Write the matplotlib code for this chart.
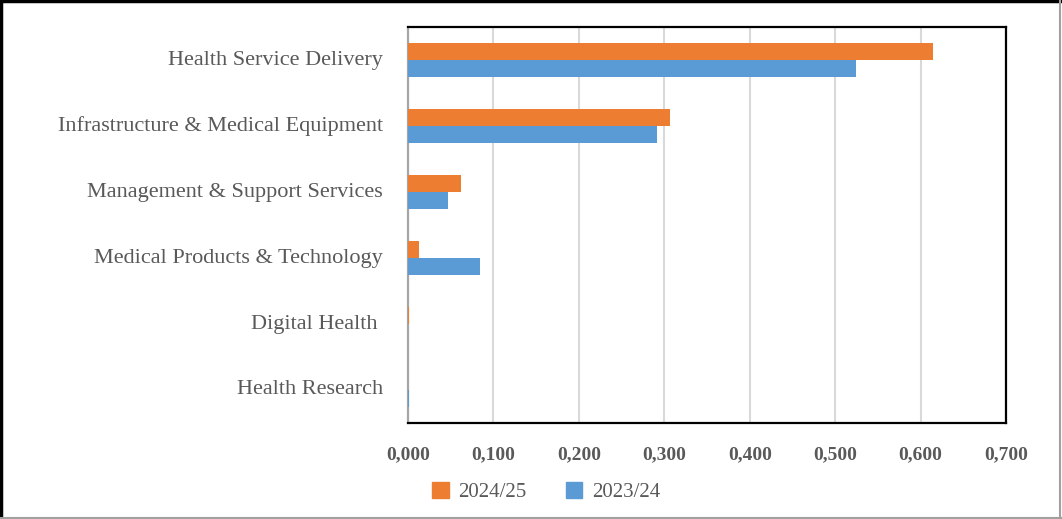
import matplotlib
matplotlib.use("Agg")
import matplotlib.pyplot as plt
from matplotlib.lines import Line2D
from matplotlib.ticker import FuncFormatter
import numpy as np

categories = [
    "Health Service Delivery",
    "Infrastructure & Medical Equipment",
    "Management & Support Services",
    "Medical Products & Technology",
    "Digital Health ",
    "Health Research",
]
fy_2024_25 = [0.615, 0.307, 0.062, 0.013, 0.001, 0.0]
fy_2023_24 = [0.524, 0.291, 0.047, 0.084, 0.0, 0.001]
x_ticks = [0.0, 0.1, 0.2, 0.3, 0.4, 0.5, 0.6, 0.7]

ORANGE = "#ED7D31"
BLUE = "#5B9BD5"
TEXT = "#595959"

plt.rcParams["font.family"] = ["Liberation Serif", "DejaVu Serif"]

fig = plt.figure(figsize=(10.62, 5.19), dpi=100)
ax = fig.add_axes([408 / 1062, 1 - 423 / 519, (1006 - 408) / 1062, (423 - 27) / 519])

y = np.arange(len(categories))
h = 0.26
ax.barh(y - h / 2, fy_2024_25, height=h, color=ORANGE, linewidth=0,
        label="2024/25", zorder=3)
ax.barh(y + h / 2, fy_2023_24, height=h, color=BLUE, linewidth=0,
        label="2023/24", zorder=3)

ax.set_ylim(len(categories) - 0.5, -0.5)
ax.set_xlim(0, 0.7)
ax.set_yticks(y)
ax.set_yticklabels(categories, fontsize=16, color=TEXT, va="center")
ax.set_xticks(x_ticks)
ax.xaxis.set_major_formatter(FuncFormatter(lambda v, _: f"{v:.3f}".replace(".", ",")))
ax.tick_params(axis="x", labelsize=14, labelcolor=TEXT, length=0, pad=17)
ax.tick_params(axis="y", length=0, pad=18)
for lbl in ax.get_xticklabels():
    lbl.set_fontweight("bold")

ax.grid(axis="x", color="#D9D9D9", linewidth=1.5, zorder=0)
ax.set_axisbelow(True)
for side in ["top", "right", "bottom"]:
    ax.spines[side].set_color("black")
    ax.spines[side].set_linewidth(1.6)
ax.spines["left"].set_color("#A6A6A6")
ax.spines["left"].set_linewidth(1.6)
ax.spines["left"].set_zorder(2)

handles = [plt.Rectangle((0, 0), 1, 1, color=ORANGE), plt.Rectangle((0, 0), 1, 1, color=BLUE)]
leg = fig.legend(handles, ["2024/25", "2023/24"], loc="center", ncol=2,
                 bbox_to_anchor=(546 / 1062, 1 - 492 / 519), frameon=False,
                 fontsize=15, handlelength=0.8, handleheight=0.8,
                 handletextpad=0.45, columnspacing=1.9)
for t in leg.get_texts():
    t.set_color(TEXT)

# outer border: dark on left/top, grey on right/bottom
fig.add_artist(Line2D([0.001, 0.001], [0, 1], color="black", linewidth=2.5, transform=fig.transFigure))
fig.add_artist(Line2D([0, 1], [0.998, 0.998], color="black", linewidth=2.5, transform=fig.transFigure))
fig.add_artist(Line2D([0.998, 0.998], [0, 1], color="#A0A0A0", linewidth=1.5, transform=fig.transFigure))
fig.add_artist(Line2D([0, 1], [0.002, 0.002], color="#A0A0A0", linewidth=1.5, transform=fig.transFigure))

fig.savefig("out.png", dpi=100)
